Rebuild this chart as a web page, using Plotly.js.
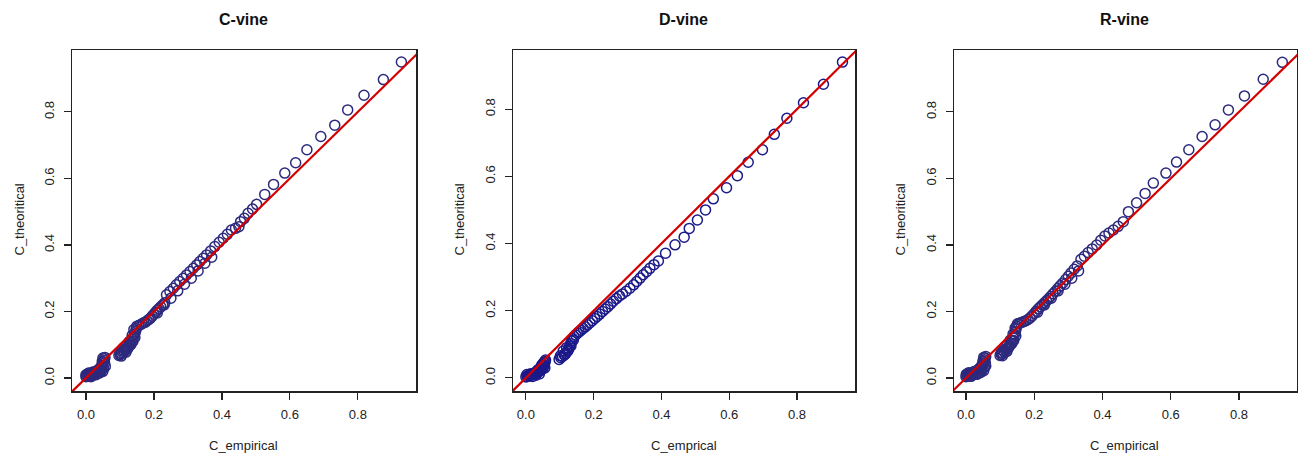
<!DOCTYPE html>
<html>
<head>
<meta charset="utf-8">
<script src="https://cdn.plot.ly/plotly-3.0.1.min.js"></script>
<style>html,body{margin:0;padding:0;background:#fff;}#chart{width:1298px;height:455px;}</style>
</head>
<body>
<div id="chart"></div>
<script>
// ---- data ----
var panelTitles = ["C-vine", "D-vine", "R-vine"];
var xTitles = ["C_empirical", "C_emprical", "C_empirical"];
var yTitle = "C_theoritical";
var tickVals = [0, 0.2, 0.4, 0.6, 0.8];
var tickText = ["0.0", "0.2", "0.4", "0.6", "0.8"];

var cvineX = [0.000,0.003,0.006,0.009,0.012,0.015,0.018,0.021,0.024,0.027,0.030,0.033,0.036,0.039,0.042,0.045,0.047,0.049,0.051,0.053,0.054,0.056,0.050,0.052,0.044,0.008,0.015,0.030,0.040,
  0.005,0.010,0.018,0.025,0.035,0.038,0.046,0.048,0.050,0.055,0.057,0.020,0.000,
  0.097,0.101,0.105,0.109,0.113,0.117,0.121,0.125,0.129,0.133,0.137,0.140,0.143,0.146,0.148,0.150,0.112,0.120,0.128,0.136,0.141,
  0.100,0.106,0.115,0.124,0.132,0.138,0.144,0.104,0.118,
  0.155,0.160,0.165,0.170,0.175,0.180,0.185,0.190,0.195,0.200,0.205,0.210,0.215,0.220,0.226,0.232,0.237,0.247,0.257,0.266,0.276,0.286,0.296,0.306,0.316,0.326,0.335,0.345,0.355,0.367,0.379,0.392,0.404,0.416,0.428,0.440,0.450,0.455,0.466,0.477,0.490,0.502,0.526,0.552,0.585,0.617,0.650,0.691,0.732,0.770,0.818,0.875,0.928,
  0.210,0.230,0.250,0.270,0.290,0.310,0.330,0.350,0.370];
var cvineY = [0.004,0.006,0.008,0.009,0.011,0.012,0.013,0.014,0.016,0.018,0.020,0.022,0.024,0.027,0.030,0.034,0.038,0.043,0.048,0.053,0.058,0.062,0.020,0.030,0.018,0.015,0.004,0.010,0.015,
  0.012,0.005,0.008,0.010,0.015,0.020,0.025,0.050,0.060,0.045,0.035,0.018,0.010,
  0.068,0.070,0.073,0.076,0.080,0.084,0.089,0.095,0.101,0.108,0.116,0.124,0.132,0.140,0.148,0.156,0.092,0.098,0.110,0.128,0.146,
  0.075,0.082,0.087,0.090,0.100,0.110,0.122,0.066,0.078,
  0.158,0.160,0.163,0.166,0.168,0.172,0.176,0.180,0.186,0.192,0.198,0.204,0.209,0.214,0.220,0.226,0.250,0.260,0.270,0.280,0.290,0.300,0.310,0.320,0.330,0.340,0.350,0.360,0.370,0.382,0.395,0.408,0.420,0.432,0.445,0.450,0.455,0.470,0.480,0.495,0.508,0.522,0.552,0.582,0.616,0.647,0.686,0.726,0.760,0.806,0.850,0.897,0.950,
  0.196,0.220,0.240,0.262,0.282,0.300,0.322,0.345,0.363];

var dvineX = [0.000,0.004,0.008,0.012,0.016,0.020,0.024,0.028,0.032,0.036,0.040,0.044,0.047,0.050,0.052,0.054,0.055,0.057,0.058,0.048,0.045,0.040,0.030,0.010,0.020,
  0.003,0.014,0.026,0.034,0.042,0.050,0.053,0.056,0.046,0.038,
  0.098,0.103,0.108,0.113,0.118,0.122,0.126,0.129,0.132,0.135,0.138,0.142,0.147,0.152,0.157,0.163,0.169,0.175,0.182,0.189,0.196,0.203,0.210,0.218,0.226,0.234,0.242,0.250,0.258,0.267,0.276,0.285,0.296,0.307,0.318,0.327,0.337,0.346,0.356,0.366,0.378,0.391,0.412,0.440,0.467,0.482,0.506,0.530,0.553,0.592,0.624,0.656,0.698,0.733,0.770,0.819,0.878,0.934,
  0.110,0.120,0.140,0.102,0.115,0.125,0.133];
var dvineY = [0.003,0.004,0.006,0.007,0.008,0.010,0.011,0.013,0.015,0.017,0.020,0.022,0.025,0.029,0.034,0.039,0.044,0.049,0.053,0.040,0.030,0.012,0.008,0.010,0.004,
  0.010,0.012,0.015,0.022,0.026,0.040,0.046,0.030,0.036,0.026,
  0.055,0.060,0.064,0.068,0.073,0.079,0.086,0.094,0.102,0.110,0.117,0.123,0.128,0.133,0.137,0.142,0.147,0.152,0.158,0.164,0.170,0.177,0.183,0.190,0.198,0.205,0.212,0.220,0.228,0.236,0.244,0.250,0.258,0.267,0.277,0.287,0.297,0.307,0.316,0.326,0.337,0.348,0.371,0.396,0.419,0.445,0.470,0.500,0.533,0.566,0.602,0.642,0.679,0.725,0.773,0.819,0.874,0.940,
  0.080,0.090,0.112,0.066,0.070,0.082,0.095];

var rvineX = [0.000,0.003,0.006,0.009,0.012,0.015,0.018,0.021,0.024,0.027,0.030,0.033,0.036,0.039,0.042,0.045,0.048,0.050,0.052,0.054,0.056,0.058,0.052,0.054,0.046,0.008,0.015,0.032,0.042,
  0.005,0.011,0.019,0.026,0.036,0.040,0.047,0.050,0.052,0.057,0.058,0.022,0.001,
  0.100,0.104,0.108,0.112,0.116,0.120,0.124,0.128,0.132,0.136,0.139,0.142,0.145,0.147,0.149,0.151,0.114,0.122,0.130,0.138,0.144,
  0.103,0.109,0.118,0.126,0.134,0.140,0.146,0.107,0.120,
  0.155,0.160,0.165,0.170,0.176,0.182,0.188,0.194,0.200,0.206,0.212,0.218,0.224,0.230,0.236,0.242,0.248,0.255,0.262,0.269,0.276,0.284,0.292,0.300,0.308,0.317,0.326,0.337,0.347,0.358,0.370,0.383,0.395,0.407,0.419,0.432,0.446,0.461,0.476,0.500,0.525,0.549,0.586,0.617,0.653,0.692,0.730,0.769,0.816,0.871,0.927,
  0.210,0.230,0.250,0.270,0.290,0.310,0.330];
var rvineY = [0.004,0.006,0.008,0.010,0.012,0.013,0.014,0.015,0.017,0.019,0.021,0.023,0.025,0.028,0.031,0.035,0.040,0.045,0.050,0.055,0.060,0.065,0.022,0.032,0.020,0.016,0.005,0.011,0.016,
  0.013,0.006,0.009,0.011,0.016,0.021,0.026,0.052,0.062,0.046,0.036,0.019,0.011,
  0.068,0.071,0.074,0.078,0.082,0.087,0.092,0.098,0.105,0.113,0.121,0.130,0.139,0.148,0.156,0.163,0.094,0.102,0.114,0.132,0.150,
  0.076,0.083,0.088,0.093,0.103,0.113,0.126,0.067,0.080,
  0.163,0.166,0.168,0.170,0.172,0.176,0.181,0.187,0.194,0.201,0.208,0.214,0.220,0.226,0.232,0.238,0.245,0.253,0.261,0.269,0.277,0.286,0.296,0.306,0.316,0.327,0.337,0.357,0.366,0.377,0.388,0.400,0.414,0.427,0.436,0.445,0.456,0.470,0.500,0.527,0.555,0.586,0.616,0.649,0.686,0.726,0.761,0.806,0.848,0.898,0.949,
  0.198,0.220,0.240,0.262,0.282,0.300,0.322];

var refLine = [-0.1, 1.1];

// ---- layout geometry (pixels of the 1298x455 page) ----
var W = 1298, H = 455;
var boxes = [
  {l: 72, r: 416, t: 50, b: 391, xr: [-0.041, 0.971], yr: [-0.039, 0.986], tx: 243, ytx: 18.5},
  {l: 513, r: 855, t: 50, b: 391, xr: [-0.038, 0.971], yr: [-0.039, 0.976], tx: 683.5, ytx: 458.5},
  {l: 954, r: 1297, t: 50, b: 391, xr: [-0.035, 0.970], yr: [-0.039, 0.986], tx: 1124, ytx: 899.5}
];
var markerColors = ["#2d2a7e", "#1c1a8a", "#2d2a7e"];
var series = [[cvineX, cvineY], [dvineX, dvineY], [rvineX, rvineY]];

var font = "Liberation Sans, Arial, sans-serif";
var data = [], annotations = [];
var layout = {
  width: W, height: H,
  margin: {l: 0, r: 0, t: 0, b: 0},
  paper_bgcolor: "#ffffff", plot_bgcolor: "#ffffff",
  showlegend: false,
  font: {family: font, size: 13, color: "#222"}
};

boxes.forEach(function (b, i) {
  var sx = i === 0 ? "" : String(i + 1);
  data.push({
    type: "scatter", mode: "markers",
    x: series[i][0], y: series[i][1],
    xaxis: "x" + sx, yaxis: "y" + sx,
    marker: {symbol: "circle-open", size: 10, color: markerColors[i], line: {width: 1.5, color: markerColors[i]}},
    cliponaxis: true, hoverinfo: "skip"
  });
  data.push({
    type: "scatter", mode: "lines",
    x: refLine, y: refLine,
    xaxis: "x" + sx, yaxis: "y" + sx,
    line: {color: "#d40000", width: 2.2},
    hoverinfo: "skip"
  });
  var common = {
    showgrid: false, zeroline: false, showline: true, mirror: true,
    linecolor: "#222", linewidth: 1.5,
    ticks: "outside", ticklen: 7, tickwidth: 1.2, tickcolor: "#222",
    tickvals: tickVals, ticktext: tickText,
    tickfont: {family: font, size: 13, color: "#222"},
    fixedrange: true
  };
  layout["xaxis" + sx] = Object.assign({}, common, {
    domain: [b.l / W, b.r / W], range: b.xr, anchor: "y" + sx, ticklabelstandoff: 4
  });
  layout["yaxis" + sx] = Object.assign({}, common, {
    domain: [1 - b.b / H, 1 - b.t / H], range: b.yr, anchor: "x" + sx, tickangle: -90, ticklabelstandoff: 4
  });
  annotations.push({
    text: "<b>" + panelTitles[i] + "</b>", xref: "paper", yref: "paper",
    x: b.tx / W, y: 1 - 20 / H, xanchor: "center", yanchor: "middle", showarrow: false,
    font: {family: font, size: 16, color: "#111"}
  });
  annotations.push({
    text: xTitles[i], xref: "paper", yref: "paper",
    x: b.tx / W, y: 1 - 445 / H, xanchor: "center", yanchor: "middle", showarrow: false,
    font: {family: font, size: 13, color: "#222"}
  });
  annotations.push({
    text: yTitle, xref: "paper", yref: "paper", textangle: -90,
    x: b.ytx / W, y: 1 - 220 / H, xanchor: "center", yanchor: "middle", showarrow: false,
    font: {family: font, size: 13, color: "#222"}
  });
});
layout.annotations = annotations;

Plotly.newPlot("chart", data, layout, {staticPlot: true, displayModeBar: false});
</script>
</body>
</html>
